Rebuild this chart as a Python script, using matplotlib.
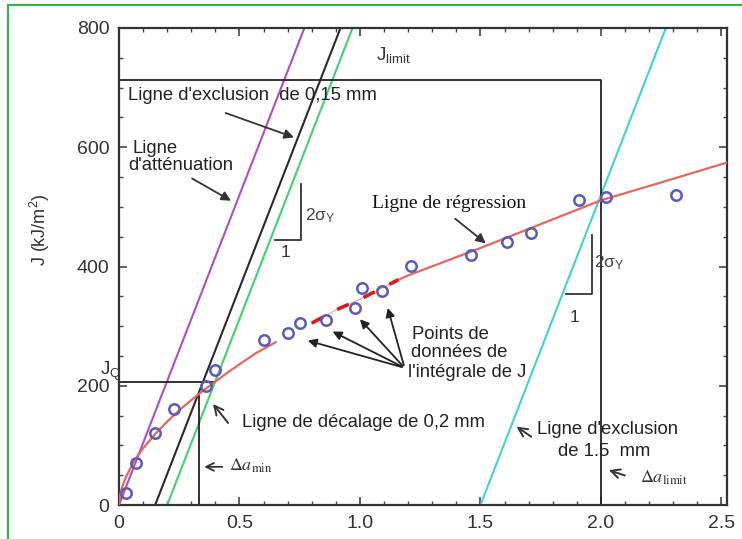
import matplotlib.pyplot as plt
from matplotlib.ticker import MultipleLocator
from matplotlib.lines import Line2D

plt.rcParams['font.family'] = ['Liberation Sans', 'DejaVu Sans']

# J-integral data points (crack extension in mm, J in kJ/m2)
delta_a = [0.03, 0.07, 0.15, 0.23, 0.36, 0.40, 0.60, 0.70, 0.75, 0.86,
           0.98, 1.01, 1.09, 1.21, 1.46, 1.61, 1.71, 1.91, 2.02, 2.31]
j_points = [20, 70, 121, 161, 200, 227, 277, 289, 305, 310,
            330, 364, 359, 401, 419, 441, 456, 512, 517, 520]

# regression curve
reg_da = [0, 0.005, 0.01, 0.02, 0.03, 0.045, 0.06, 0.08, 0.1, 0.15, 0.2, 0.25,
          0.3, 0.35, 0.4, 0.45, 0.5, 0.57, 0.65, 0.8, 0.9, 1.0, 1.16, 1.2, 1.5,
          1.75, 2.0, 2.25, 2.52]
reg_j = [0, 18, 26, 38, 48, 60, 71, 84, 95, 119, 140, 159,
         176, 192, 207, 222, 236, 255, 273, 305, 327, 345, 378, 385, 431,
         471, 511, 541, 574]

# construction lines: slope 2*sigma_Y, offsets in mm
slope_2sy = 1040
offset_blunt = 0.0
offset_015 = 0.15
offset_02 = 0.2
offset_15 = 1.5

j_q = 207
da_min = 0.332
j_limit = 713
da_limit = 2.0

fig = plt.figure(figsize=(7.42, 5.39), dpi=100)
ax = fig.add_axes([119 / 742, 1 - 505 / 539, 608 / 742, 477 / 539])

TXT = '#222222'


def offset_line(off, color):
    ax.plot([off, off + 800 / slope_2sy], [0, 800], color=color, lw=1.5, zorder=2)


offset_line(offset_blunt, '#b04cc4')
offset_line(offset_015, '#2a2a2a')
offset_line(offset_02, '#3fd36a')
offset_line(offset_15, '#3ed3dc')

# regression line: solid, dashed middle, solid
lo = [i for i, v in enumerate(reg_da) if v <= 0.65]
mid = [i for i, v in enumerate(reg_da) if 0.8 <= v <= 1.16]
hi = [i for i, v in enumerate(reg_da) if v >= 1.16]
ax.plot([reg_da[i] for i in lo], [reg_j[i] for i in lo], color='#e4675d', lw=1.6, zorder=3)
ax.plot([reg_da[i] for i in hi], [reg_j[i] for i in hi], color='#e4675d', lw=1.6, zorder=3)
ax.plot([reg_da[i] for i in mid], [reg_j[i] for i in mid], color='#f2a8a8', lw=1.0, zorder=3)
ax.plot([reg_da[i] for i in mid], [reg_j[i] for i in mid], color='#e01818', lw=2.6,
        dashes=(3.5, 4.5), zorder=3)

ax.plot(delta_a, j_points, 'o', ms=7.5, mfc='none', mec='#5a5ab8', mew=1.8, zorder=5)

# J_Q / delta a_min construction
ax.plot([0, offset_02 + j_q / slope_2sy], [j_q, j_q], color='#222', lw=1.3, zorder=2)
ax.plot([da_min, da_min], [0, 186], color='#222', lw=1.3, zorder=2)
# J_limit / delta a_limit
ax.plot([0, da_limit, da_limit], [j_limit, j_limit, 0], color='#222', lw=1.3, zorder=2)

# slope triangles
ax.plot([0.647, 0.756, 0.756], [444, 444, 539], color='#333', lw=1.3)
ax.plot([1.855, 1.961, 1.961], [354, 354, 453], color='#333', lw=1.3)
ax.text(0.77, 486, r'$\mathregular{2\sigma_Y}$', fontsize=12.5, color='#444', va='center')
ax.text(0.69, 423, '1', fontsize=12.5, color='#333', ha='center', va='center')
ax.text(1.97, 407, r'$\mathregular{2\sigma_Y}$', fontsize=12.5, color='#444', va='center')
ax.text(1.89, 315, '1', fontsize=12.5, color='#333', ha='center', va='center')

fs = 13.3
ax.text(0.037, 687, "Ligne d'exclusion  de 0,15 mm", fontsize=fs, color=TXT, va='center')
ax.annotate('', xy=(0.737, 615), xytext=(0.432, 659),
            arrowprops=dict(arrowstyle='-|>', color='#333', lw=1.3, mutation_scale=14))

ax.text(0.058, 598, 'Ligne', fontsize=fs, color=TXT, va='center')
ax.text(0.037, 569, "d'atténuation", fontsize=fs, color=TXT, va='center')
ax.annotate('', xy=(0.475, 508), xytext=(0.293, 550),
            arrowprops=dict(arrowstyle='-|>', color='#333', lw=1.3, mutation_scale=14))

ax.text(1.05, 506, 'Ligne de régression', fontsize=14, color='#111',
        family='Liberation Serif', va='center')
ax.annotate('', xy=(1.531, 436), xytext=(1.386, 483),
            arrowprops=dict(arrowstyle='-|>', color='#333', lw=1.3, mutation_scale=14))

ax.text(1.216, 286, 'Points de', fontsize=fs, color=TXT, va='center')
ax.text(1.212, 255, 'données de', fontsize=fs, color=TXT, va='center')
ax.text(1.2, 222, "l'intégrale de J", fontsize=fs, color=TXT, va='center')
for hx, hy in [(0.772, 277), (0.876, 293), (0.992, 315), (1.112, 335)]:
    ax.annotate('', xy=(hx, hy), xytext=(1.185, 230),
                arrowprops=dict(arrowstyle='-|>', color='#222', lw=1.3, mutation_scale=13))

ax.text(0.51, 139, 'Ligne de décalage de 0,2 mm', fontsize=fs, color=TXT, va='center')
ax.annotate('', xy=(0.383, 173), xytext=(0.46, 134),
            arrowprops=dict(arrowstyle='->', color='#333', lw=1.4, mutation_scale=16))

ax.annotate('', xy=(0.342, 64), xytext=(0.44, 64),
            arrowprops=dict(arrowstyle='->', color='#333', lw=1.3, mutation_scale=14))
ax.text(0.455, 65, r'$\Delta a_{\mathrm{min}}$', fontsize=13, color='#333',
        va='center', math_fontfamily='stix')

ax.text(1.734, 126, "Ligne d'exclusion", fontsize=fs, color=TXT, va='center')
ax.text(1.822, 90, 'de 1.5  mm', fontsize=fs, color=TXT, va='center')
ax.annotate('', xy=(1.64, 134), xytext=(1.72, 112),
            arrowprops=dict(arrowstyle='->', color='#333', lw=1.4, mutation_scale=16))

ax.annotate('', xy=(2.022, 60), xytext=(2.11, 48),
            arrowprops=dict(arrowstyle='->', color='#333', lw=1.4, mutation_scale=16))
ax.text(2.16, 45, r'$\Delta a_{\mathrm{limit}}$', fontsize=13, color='#333',
        va='center', math_fontfamily='stix')

ax.text(1.065, 755, r'$\mathregular{J_{limit}}$', fontsize=13.5, color='#333', va='center')
ax.text(-0.08, 224, r'$\mathregular{J_Q}$', fontsize=13.5, color='#333',
        va='center', clip_on=False)

ax.set_xlim(0, 2.523)
ax.set_ylim(0, 800)
ax.xaxis.set_major_locator(MultipleLocator(0.5))
ax.xaxis.set_minor_locator(MultipleLocator(0.1))
ax.yaxis.set_major_locator(MultipleLocator(200))
ax.yaxis.set_minor_locator(MultipleLocator(50))
ax.set_xticks([0, 0.5, 1.0, 1.5, 2.0, 2.5])
ax.set_xticklabels(['0', '0.5', '1.0', '1.5', '2.0', '2.5'])
ax.tick_params(which='both', direction='in', top=True, right=True,
               labelsize=14, labelcolor='#333', color='#444')
ax.tick_params(which='major', length=6, width=1.2, pad=7)
ax.tick_params(which='minor', length=3, width=1.0)
for s in ax.spines.values():
    s.set_linewidth(1.6)
    s.set_color('#333')

fig.text(40 / 742, 1 - 230 / 539, r'J (kJ/m$^\mathregular{2}$)', rotation=90,
         fontsize=13, color='#333', ha='center', va='center')

# green frame of the original picture
fig.add_artist(Line2D([8 / 742, 8 / 742], [0, 1 - 5 / 539], color='#2db34a', lw=1.5))
fig.add_artist(Line2D([8 / 742, 1], [1 - 5 / 539, 1 - 5 / 539], color='#2db34a', lw=1.5))

fig.savefig('out.png', dpi=100)
